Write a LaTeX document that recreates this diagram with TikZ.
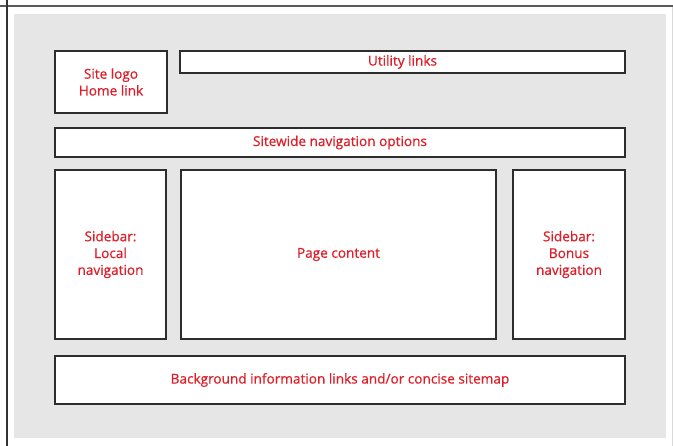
\documentclass[tikz,border=0pt]{standalone}
\usepackage{fontspec}
\setmainfont{Open Sans}
\newfontfamily\labelfont{Open Sans}[RawFeature={embolden=0.6}]
\definecolor{labelred}{RGB}{222,30,40}
\definecolor{boxline}{RGB}{45,45,45}
\definecolor{panelgray}{RGB}{230,230,230}
\tikzset{
  block/.style={draw=boxline, line width=2.3pt, fill=white, text=labelred,
    align=center, inner sep=0pt, font=\labelfont\fontsize{13.6}{16.8}\selectfont}
}

\begin{document}
\begin{tikzpicture}[x=1pt, y=-1pt]
  \useasboundingbox (0,0) rectangle (673,446);
  % frame and panel
  \draw[line width=1.2pt, black!65] (0,6) -- (673,6);
  \draw[line width=1.2pt, black!80] (7,0) -- (7,446);
  \draw[line width=1pt, black!15] (672,7) -- (672,446);
  \fill[panelgray] (14,14) rectangle (665.5,438.5);

  % page regions
  \node[block, minimum width=112, minimum height=62] (logo) at (111,82) {Site logo\\Home link};
  \node[block, minimum width=445, minimum height=22] (utility) at (402.5,62) {Utility links};
  \node[block, minimum width=570, minimum height=29] (sitewide) at (340,142.5) {Sitewide navigation options};
  \node[block, minimum width=111, minimum height=169] (localnav) at (110.5,254.5) {Sidebar:\\Local\\navigation};
  \node[block, minimum width=315, minimum height=169] (content) at (338.5,254.5) {Page content};
  \node[block, minimum width=112, minimum height=169] (bonusnav) at (569,254.5) {Sidebar:\\Bonus\\navigation};
  \node[block, minimum width=570, minimum height=48] (footer) at (340,380) {Background information links and/or concise sitemap};
\end{tikzpicture}
\end{document}
